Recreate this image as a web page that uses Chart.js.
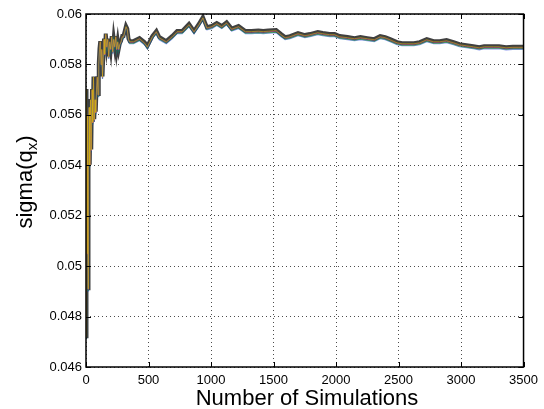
<!DOCTYPE html>
<html>
<head>
<meta charset="utf-8">
<script src="https://cdn.jsdelivr.net/npm/chart.js@4/dist/chart.umd.min.js"></script>
<style>
  html, body { margin: 0; padding: 0; background: #fff; }
  #wrap { width: 544px; height: 409px; position: relative; }
</style>
</head>
<body>
<div id="wrap"><canvas id="sigmaChart"></canvas></div>
<script>
// number of simulations at each sample
var simCounts = [
  1, 4, 8, 12, 16, 20, 25, 30, 36, 42, 48, 54, 60, 66, 72, 78, 84, 90, 96, 102,
  108, 114, 120, 126, 132, 138, 144, 150, 158, 166, 174, 182, 190, 198, 206, 214,
  222, 230, 238, 246, 254, 262, 270, 280, 290, 300, 310, 320, 330, 340, 350, 380,
  428, 468, 491, 531, 563, 586, 642, 689, 729, 769, 824, 864, 903, 935, 967, 1006,
  1046, 1086, 1125, 1165, 1220, 1276, 1323, 1379, 1418, 1458, 1521, 1561, 1593,
  1632, 1696, 1751, 1791, 1854, 1894, 1949, 1989, 2029, 2092, 2148, 2195, 2250,
  2306, 2353, 2393, 2433, 2488, 2528, 2567, 2623, 2670, 2726, 2781, 2829, 2884,
  2940, 2987, 3043, 3098, 3146, 3185, 3257, 3304, 3360, 3415, 3463, 3500
];

// running estimate of sigma(q_x)
var sigmaQx = [
  0.0472, 0.0570, 0.0505, 0.0560, 0.0491, 0.0540, 0.0563, 0.0540, 0.0566, 0.0546,
  0.0570, 0.0557, 0.0575, 0.0558, 0.0566, 0.0561, 0.0570, 0.0575, 0.0568, 0.0580,
  0.0586, 0.0589, 0.0580, 0.0586, 0.0575, 0.0583, 0.0590, 0.0584, 0.0592, 0.0587,
  0.0590, 0.0583, 0.0589, 0.0586, 0.0591, 0.0585, 0.0590, 0.0587, 0.0591, 0.0586,
  0.0589, 0.0586, 0.0588, 0.0589, 0.0591, 0.0591, 0.0593, 0.0595, 0.0594, 0.0590,
  0.0589, 0.0589, 0.05902, 0.05886, 0.0587, 0.0591, 0.0593, 0.05906, 0.0589, 0.0591,
  0.0593, 0.0593, 0.05958, 0.0593, 0.05958, 0.05985, 0.05945, 0.0595, 0.05962, 0.0595,
  0.05965, 0.0594, 0.0595, 0.0593, 0.0593, 0.05932, 0.0593, 0.05932, 0.05934, 0.05918,
  0.05906, 0.0591, 0.05922, 0.05914, 0.05918, 0.05926, 0.05922, 0.05918, 0.05918, 0.0591,
  0.05906, 0.05902, 0.05906, 0.05902, 0.05898, 0.0591, 0.05906, 0.05898, 0.05886, 0.05882,
  0.05882, 0.05882, 0.05886, 0.05898, 0.0589, 0.0589, 0.05894, 0.05886, 0.05878, 0.05874,
  0.0587, 0.05866, 0.0587, 0.0587, 0.0587, 0.05866, 0.05868, 0.05868, 0.05868
];

var xTicks = [0, 500, 1000, 1500, 2000, 2500, 3000, 3500];
var yTicks = [0.046, 0.048, 0.05, 0.052, 0.054, 0.056, 0.058, 0.06];

// overlaid traces: colour, width and vertical nudge in px
var traceColors  = ['rgba(210,190,0,0.55)', 'rgba(208,32,200,0.5)', 'rgba(16,160,16,0.55)', 'rgba(32,56,224,0.55)', '#404040'];
var traceWidths  = [1, 1, 1.2, 1.2, 4];
var traceOffsets = [0, 0.6, 1.4, 2.0, -0.6];

var FONT = '"Liberation Sans", Arial, Helvetica, sans-serif';

var points = simCounts.map(function(x, i) { return { x: x, y: sigmaQx[i] }; });

var datasets = traceColors.map(function(c, i) {
  return {
    data: points,
    borderColor: c,
    borderWidth: traceWidths[i],
    pointRadius: 0,
    tension: 0,
    fill: false
  };
});

// shift each trace a little so the stack of lines shows
var traceShift = {
  id: 'traceShift',
  beforeDatasetDraw: function(chart, args) {
    chart.ctx.save();
    chart.ctx.translate(0, traceOffsets[args.index] || 0);
  },
  afterDatasetDraw: function(chart) {
    chart.ctx.restore();
  }
};

// box, inward ticks and axis titles
var frame = {
  id: 'frame',
  afterDraw: function(chart) {
    var ctx = chart.ctx, a = chart.chartArea;
    var xs = chart.scales.x, ys = chart.scales.y;
    ctx.save();
    ctx.strokeStyle = '#000';
    ctx.lineWidth = 1.5;
    ctx.strokeRect(a.left, a.top, a.right - a.left, a.bottom - a.top);

    ctx.lineWidth = 1;
    ctx.beginPath();
    xTicks.forEach(function(v) {
      var px = Math.round(xs.getPixelForValue(v)) + 0.5;
      ctx.moveTo(px, a.bottom); ctx.lineTo(px, a.bottom - 5);
      ctx.moveTo(px, a.top); ctx.lineTo(px, a.top + 5);
    });
    yTicks.forEach(function(v) {
      var py = Math.round(ys.getPixelForValue(v)) + 0.5;
      ctx.moveTo(a.left, py); ctx.lineTo(a.left + 5, py);
      ctx.moveTo(a.right, py); ctx.lineTo(a.right - 5, py);
    });
    ctx.stroke();

    ctx.fillStyle = '#000';
    ctx.font = '22px ' + FONT;
    ctx.textAlign = 'center';
    ctx.textBaseline = 'alphabetic';
    ctx.fillText('Number of Simulations', 307, 405);

    // y title with subscript
    ctx.translate(32, 182);
    ctx.rotate(-Math.PI / 2);
    var main = 'sigma(q', sub = 'x', close = ')';
    ctx.font = '22px ' + FONT;
    var wMain = ctx.measureText(main).width;
    var wClose = ctx.measureText(close).width;
    ctx.font = '15px ' + FONT;
    var wSub = ctx.measureText(sub).width;
    var start = -(wMain + wSub + wClose) / 2;
    ctx.textAlign = 'left';
    ctx.font = '22px ' + FONT;
    ctx.fillText(main, start, 0);
    ctx.font = '15px ' + FONT;
    ctx.fillText(sub, start + wMain, 5);
    ctx.font = '22px ' + FONT;
    ctx.fillText(close, start + wMain + wSub, 0);
    ctx.restore();
  }
};

var ctx = document.getElementById('sigmaChart').getContext('2d');
var sigmaChart = new Chart(ctx, {
  type: 'line',
  data: { datasets: datasets },
  options: {
    responsive: true,
    maintainAspectRatio: false,
    animation: false,
    layout: { padding: { top: 14, right: 16, left: 0, bottom: 0 } },
    plugins: { legend: { display: false }, tooltip: { enabled: false } },
    scales: {
      x: {
        type: 'linear',
        min: 0,
        max: 3500,
        afterBuildTicks: function(scale) {
          scale.ticks = xTicks.map(function(v) { return { value: v }; });
        },
        afterFit: function(scale) { scale.height = 42; },
        border: { display: false, dash: [1, 3] },
        grid: { color: 'rgba(0,0,0,0.7)', lineWidth: 1, drawTicks: false },
        ticks: {
          color: '#000',
          font: { family: FONT, size: 13 },
          padding: 6,
          maxRotation: 0,
          callback: function(v) { return String(v); }
        }
      },
      y: {
        min: 0.046,
        max: 0.06,
        afterBuildTicks: function(scale) {
          scale.ticks = yTicks.map(function(v) { return { value: v }; });
        },
        afterFit: function(scale) { scale.width = 86; },
        border: { display: false, dash: [1, 3] },
        grid: { color: 'rgba(0,0,0,0.7)', lineWidth: 1, drawTicks: false },
        ticks: {
          color: '#000',
          font: { family: FONT, size: 13 },
          padding: 4,
          callback: function(v) { return String(Number(v.toFixed(3))); }
        }
      }
    }
  },
  plugins: [traceShift, frame]
});
</script>
</body>
</html>
